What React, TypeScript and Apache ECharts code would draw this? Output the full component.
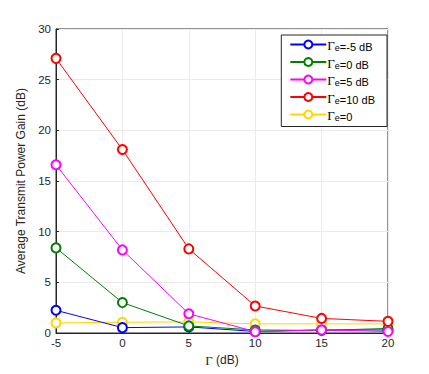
import React, { useEffect, useRef } from "react";
import * as echarts from "echarts";

const xValues = [-5, 0, 5, 10, 15, 20];
const seriesNames = ["Γe=-5 dB", "Γe=0 dB", "Γe=5 dB", "Γe=10 dB", "Γe=0"];
const legendSuffix = ["=-5 dB", "=0 dB", "=5 dB", "=10 dB", "=0"];
const seriesColors = ["#0000ff", "#008000", "#ff00ff", "#ff0000", "#ffd700"];
const blueVals = [2.24, 0.53, 0.6, 0.15, 0.3, 0.3];
const greenVals = [8.4, 3.0, 0.7, 0.3, 0.25, 0.45];
const magentaVals = [16.6, 8.2, 1.9, 0.13, 0.3, 0.15];
const redVals = [27.1, 18.1, 8.3, 2.67, 1.44, 1.15];
const yellowVals = [1.0, 1.06, 1.1, 0.9, 0.9, 0.9];
const allVals = [blueVals, greenVals, magentaVals, redVals, yellowVals];

export default function App() {
  const ref = useRef<HTMLDivElement>(null);
  useEffect(() => {
    const chart = echarts.init(ref.current!, undefined, { renderer: "svg" });
    const font = "Liberation Sans, Arial, sans-serif";
    const serif = "Liberation Serif, DejaVu Serif, serif";
    chart.setOption({
      animation: false,
      backgroundColor: "#ffffff",
      textStyle: { fontFamily: font },
      grid: { left: 56, right: 41, top: 29, bottom: 41, show: true, borderColor: "#262626", borderWidth: 1 },
      xAxis: {
        type: "value",
        min: -5,
        max: 20,
        interval: 5,
        name: "{g|Γ} (dB)",
        nameLocation: "middle",
        nameGap: 19,
        nameTextStyle: {
          color: "#262626",
          fontSize: 12,
          fontFamily: font,
          rich: { g: { fontFamily: serif, fontSize: 13, color: "#262626" } },
        },
        axisLine: { show: true, onZero: false, lineStyle: { color: "#262626" } },
        axisTick: { inside: true, length: 3, lineStyle: { color: "#262626" } },
        axisLabel: { color: "#262626", fontSize: 11.5, margin: 4, fontFamily: font },
        splitLine: { show: true, lineStyle: { color: "#ebebeb", width: 1 } },
      },
      yAxis: {
        type: "value",
        min: 0,
        max: 30,
        interval: 5,
        name: "Average Transmit Power Gain (dB)",
        nameLocation: "middle",
        nameGap: 14,
        nameTextStyle: { color: "#262626", fontSize: 12, fontFamily: font },
        axisLine: { show: true, onZero: false, lineStyle: { color: "#262626" } },
        axisTick: { inside: true, length: 3, lineStyle: { color: "#262626" } },
        axisLabel: { color: "#262626", fontSize: 11.5, margin: 5, fontFamily: font },
        splitLine: { show: true, lineStyle: { color: "#ebebeb", width: 1 } },
      },
      legend: {
        orient: "vertical",
        right: 42,
        top: 35,
        width: 105,
        backgroundColor: "#ffffff",
        borderColor: "#262626",
        borderWidth: 1,
        borderRadius: 0,
        padding: [4, 12, 4, 8],
        itemGap: 4,
        itemWidth: 36,
        itemHeight: 10,
        data: seriesNames,
        formatter: (name: string) => {
          const i = seriesNames.indexOf(name);
          return "{g|Γ}{s|e}{t|" + legendSuffix[i] + "}";
        },
        textStyle: {
          fontFamily: font,
          color: "#000",
          fontSize: 11,
          padding: [0, 0, 0, -4],
          rich: {
            g: { fontFamily: serif, fontSize: 13, color: "#000", verticalAlign: "bottom", height: 14 },
            s: { fontSize: 9, color: "#000", padding: [7, 0, 0, 0], verticalAlign: "bottom" },
            t: { fontSize: 11, color: "#000", fontFamily: font, verticalAlign: "bottom" },
          },
        },
      },
      series: seriesNames.map((n, i) => ({
        name: n,
        type: "line",
        data: xValues.map((x, j) => [x, allVals[i][j]]),
        symbol: "emptyCircle",
        symbolSize: 9,
        showSymbol: true,
        lineStyle: { color: seriesColors[i], width: 1 },
        itemStyle: { color: seriesColors[i], borderColor: seriesColors[i], borderWidth: 1.2 },
        z: i === 4 ? 1 : 2,
      })),
    });
    return () => chart.dispose();
  }, []);
  return <div ref={ref} style={{ width: 429, height: 374, position: "absolute", left: 0, top: 0 }} />;
}
